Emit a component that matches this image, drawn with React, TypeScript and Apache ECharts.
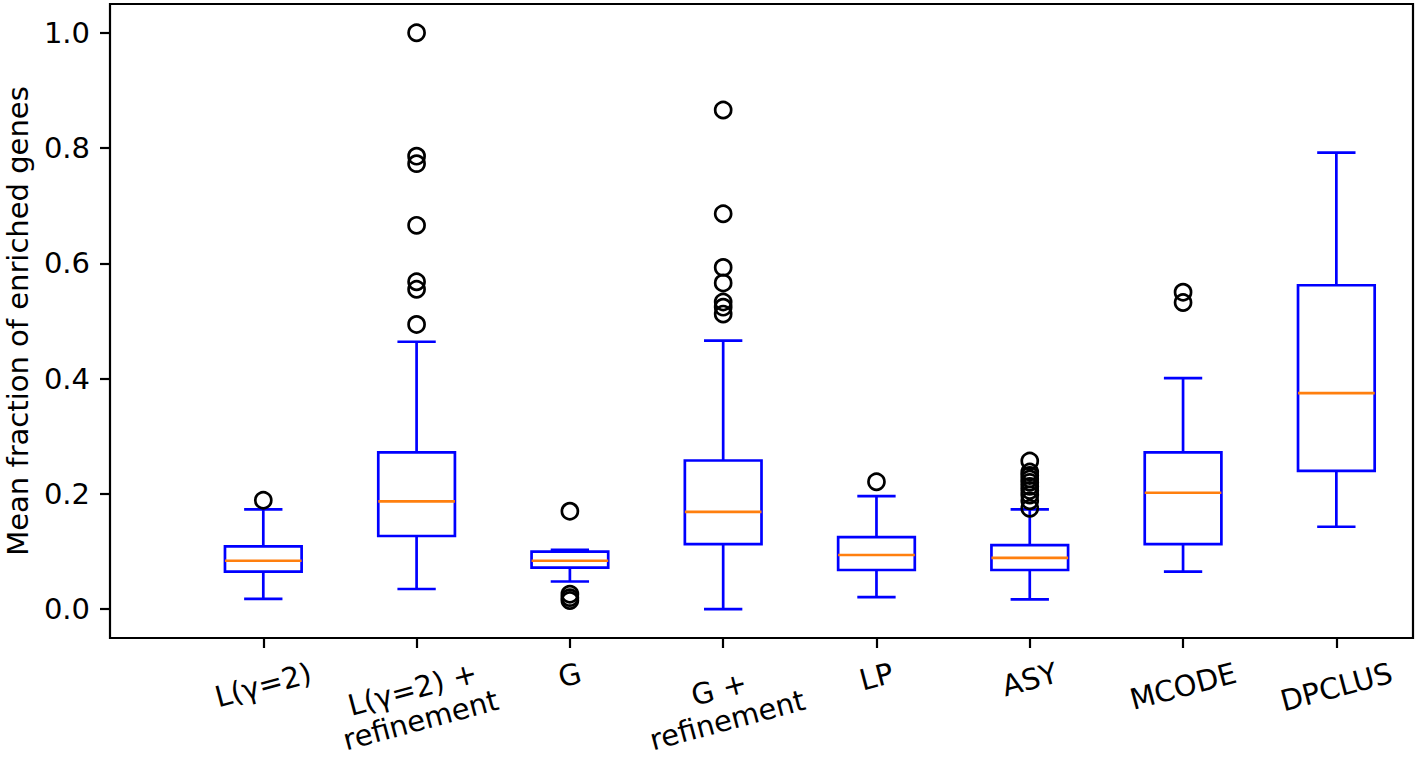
import React, { useEffect, useRef } from "react";
import * as echarts from "echarts";

const categories = [
  "L(γ=2)",
  "L(γ=2) +\nrefinement",
  "G",
  "G +\nrefinement",
  "LP",
  "ASY",
  "MCODE",
  "DPCLUS",
];
const positions = [1, 2, 3, 4, 5, 6, 7, 8];
const whiskerLow = [0.018, 0.035, 0.048, 0.0, 0.021, 0.017, 0.065, 0.143];
const q1 = [0.065, 0.127, 0.072, 0.113, 0.068, 0.068, 0.113, 0.24];
const median = [0.084, 0.187, 0.084, 0.169, 0.094, 0.089, 0.202, 0.375];
const q3 = [0.109, 0.272, 0.1, 0.258, 0.125, 0.111, 0.272, 0.562];
const whiskerHigh = [0.173, 0.464, 0.103, 0.466, 0.196, 0.173, 0.401, 0.792];
const outliers: number[][] = [
  [0.189],
  [1.0, 0.786, 0.773, 0.666, 0.568, 0.555, 0.494],
  [0.17, 0.026, 0.02, 0.015],
  [0.866, 0.686, 0.593, 0.566, 0.533, 0.524, 0.512],
  [0.221],
  [0.257, 0.238, 0.232, 0.226, 0.22, 0.213, 0.206, 0.198, 0.188, 0.175],
  [0.55, 0.532],
  [],
];
const yTicks = [0, 0.2, 0.4, 0.6, 0.8, 1.0];
const yMin = -0.05;
const yMax = 1.05;
const xMin = 0;
const xMax = 8.5;

const FONT = "DejaVu Sans";
const FS = 29;
const LW = 2.7;
const BLUE = "#0000ff";
const ORANGE = "#ff7f0e";

function measure(text: string): number {
  const c = document.createElement("canvas").getContext("2d");
  if (!c) return text.length * FS * 0.6;
  c.font = `${FS}px "${FONT}"`;
  return Math.max(...text.split("\n").map((l) => c.measureText(l).width));
}

export default function App() {
  const ref = useRef<HTMLDivElement>(null);
  useEffect(() => {
    if (!ref.current) return;
    const chart = echarts.init(ref.current, undefined, { renderer: "svg" });
    const boxData = positions.map((p, i) => [
      p,
      whiskerLow[i],
      q1[i],
      median[i],
      q3[i],
      whiskerHigh[i],
    ]);
    const outlierData: number[][] = [];
    outliers.forEach((arr, i) => arr.forEach((v) => outlierData.push([positions[i], v])));
    const labelData = positions.map((p) => [p, yMin]);
    const rot = (15 * Math.PI) / 180;

    chart.setOption({
      animation: false,
      grid: {
        left: 110,
        right: 5,
        top: 4,
        bottom: 120,
        outerBoundsMode: "none",
        containLabel: false,
        show: true,
        borderColor: "#000",
        borderWidth: 2.2,
        backgroundColor: "transparent",
      },
      xAxis: {
        type: "value",
        min: xMin,
        max: xMax,
        axisLine: { show: false, onZero: false },
        splitLine: { show: false },
        axisTick: {
          show: true,
          customValues: positions,
          length: 10,
          lineStyle: { color: "#000", width: 2.2 },
        },
        axisLabel: { show: false },
      },
      yAxis: {
        type: "value",
        min: yMin,
        max: yMax,
        axisLine: { show: false, onZero: false },
        splitLine: { show: false },
        axisTick: {
          show: true,
          customValues: yTicks,
          length: 10,
          lineStyle: { color: "#000", width: 2.2 },
        },
        axisLabel: {
          customValues: yTicks,
          formatter: (v: number) => v.toFixed(1),
          fontFamily: FONT,
          fontSize: FS,
          color: "#000",
          margin: 20,
        },
        name: "Mean fraction of enriched genes",
        nameLocation: "middle",
        nameRotate: 90,
        nameGap: 77,
        nameTextStyle: { fontFamily: FONT, fontSize: FS, color: "#000" },
      },
      series: [
        {
          type: "custom",
          data: boxData,
          encode: { x: 0, y: [1, 2, 3, 4, 5] },
          renderItem: (params: any, api: any) => {
            const x = api.value(0);
            const pLow = api.coord([x, api.value(1)]);
            const pQ1 = api.coord([x, api.value(2)]);
            const pMed = api.coord([x, api.value(3)]);
            const pQ3 = api.coord([x, api.value(4)]);
            const pHigh = api.coord([x, api.value(5)]);
            const cx = pMed[0];
            const bw = api.size([0.5, 0])[0];
            const cw = api.size([0.25, 0])[0];
            const ls = { stroke: BLUE, lineWidth: LW, fill: "none" };
            return {
              type: "group",
              children: [
                { type: "line", shape: { x1: cx, y1: pQ1[1], x2: cx, y2: pLow[1] }, style: ls },
                { type: "line", shape: { x1: cx, y1: pQ3[1], x2: cx, y2: pHigh[1] }, style: ls },
                { type: "line", shape: { x1: cx - cw / 2, y1: pLow[1], x2: cx + cw / 2, y2: pLow[1] }, style: ls },
                { type: "line", shape: { x1: cx - cw / 2, y1: pHigh[1], x2: cx + cw / 2, y2: pHigh[1] }, style: ls },
                {
                  type: "rect",
                  shape: { x: cx - bw / 2, y: pQ3[1], width: bw, height: pQ1[1] - pQ3[1] },
                  style: ls,
                },
                {
                  type: "line",
                  shape: { x1: cx - bw / 2, y1: pMed[1], x2: cx + bw / 2, y2: pMed[1] },
                  style: { stroke: ORANGE, lineWidth: LW },
                },
              ],
            };
          },
          z: 2,
        },
        {
          type: "scatter",
          data: outlierData,
          symbol: "circle",
          symbolSize: 16,
          itemStyle: { color: "rgba(0,0,0,0)", borderColor: "#000", borderWidth: LW, opacity: 1 },
          z: 3,
        },
        {
          type: "custom",
          data: labelData,
          clip: false,
          silent: true,
          renderItem: (params: any, api: any) => {
            const idx = params.dataIndex;
            const text = categories[idx];
            const p = api.coord([api.value(0), api.value(1)]);
            const w = measure(text);
            const n = text.split("\n").length;
            const h = FS * (1.164 + (n - 1) * 1.12);
            const bh = w * Math.sin(rot) + h * Math.cos(rot);
            const cy = p[1] + 18 + bh / 2 - (n - 1) * 4;
            return {
              type: "text",
              x: p[0],
              y: cy,
              rotation: rot,
              style: {
                text,
                fontFamily: FONT,
                fontSize: FS,
                fill: "#000",
                align: "center",
                verticalAlign: "middle",
                lineHeight: Math.round(FS * 1.12),
              },
            };
          },
        },
      ],
    });
    return () => chart.dispose();
  }, []);
  return (
    <div
      ref={ref}
      style={{ position: "fixed", left: 0, top: 0, width: 1418, height: 758, background: "#fff" }}
    />
  );
}
